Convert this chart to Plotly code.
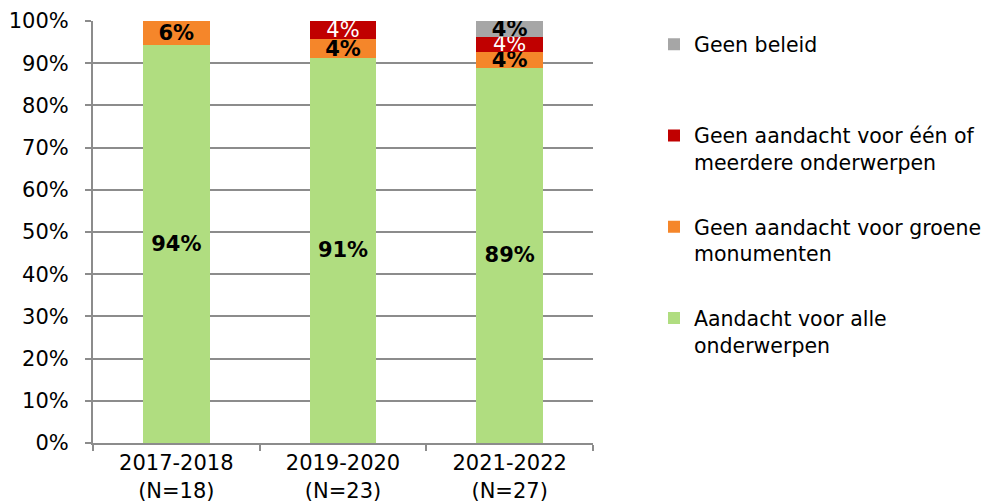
import plotly.graph_objects as go

categories = ["2017-2018<br>(N=18)", "2019-2020<br>(N=23)", "2021-2022<br>(N=27)"]
aandacht_alle = [94.4, 91.3, 88.9]
geen_groene = [5.6, 4.35, 3.7]
geen_onderwerpen = [0, 4.35, 3.7]
geen_beleid = [0, 0, 3.7]

series = [
    ("Aandacht voor alle<br>onderwerpen", aandacht_alle, "#B0DD80", "black", True),
    ("Geen aandacht voor groene<br>monumenten", geen_groene, "#F5862A", "black", True),
    ("Geen aandacht voor één of<br>meerdere onderwerpen", geen_onderwerpen, "#C00000", "white", False),
    ("Geen beleid<br> ", geen_beleid, "#A6A6A6", "black", True),
]

FONT = "DejaVu Sans"
fig = go.Figure()
for i, (name, vals, col, tcol, bold) in enumerate(series):
    txt = [("<b>%d%%</b>" if bold else "%d%%") % round(v) if v > 0 else "" for v in vals]
    fig.add_trace(go.Bar(
        x=categories, y=vals, name=name, marker=dict(color=col, line=dict(width=0)),
        text=txt, textposition="inside", insidetextanchor="middle",
        constraintext="none", textangle=0,
        textfont=dict(family=FONT, size=21, color=tcol),
        legendgroup="g%d" % i, legendrank=len(series) - i, hoverinfo="skip",
    ))

fig.update_layout(
    barmode="stack", bargap=0.6,
    width=989, height=493,
    margin=dict(l=85, r=404, t=13, b=58, autoexpand=False),
    plot_bgcolor="white", paper_bgcolor="white",
    font=dict(family=FONT, size=21, color="black"),
    showlegend=True,
    legend=dict(
        x=1.122, y=0.992, xanchor="left", yanchor="top",
        traceorder="grouped", tracegroupgap=35,
        valign="top", font=dict(family=FONT, size=20.5, color="black"),
        itemwidth=30, bgcolor="rgba(0,0,0,0)", borderwidth=0,
    ),
)
fig.update_yaxes(
    range=[0, 100], dtick=10, ticksuffix="%",
    showgrid=True, gridcolor="#8C8C8C", gridwidth=2,
    showline=True, linecolor="#8C8C8C", linewidth=2,
    ticks="outside", ticklen=6, tickcolor="#8C8C8C", tickwidth=2,
    zeroline=False, ticklabelstandoff=12,
    tickfont=dict(family=FONT, size=21, color="black"),
)
fig.update_xaxes(
    showline=True, linecolor="#8C8C8C", linewidth=2,
    ticks="outside", ticklen=6, tickcolor="#8C8C8C", tickwidth=2,
    tickson="boundaries", showgrid=False,
    tickfont=dict(family=FONT, size=21, color="black"),
)
fig.write_html("out.html")
